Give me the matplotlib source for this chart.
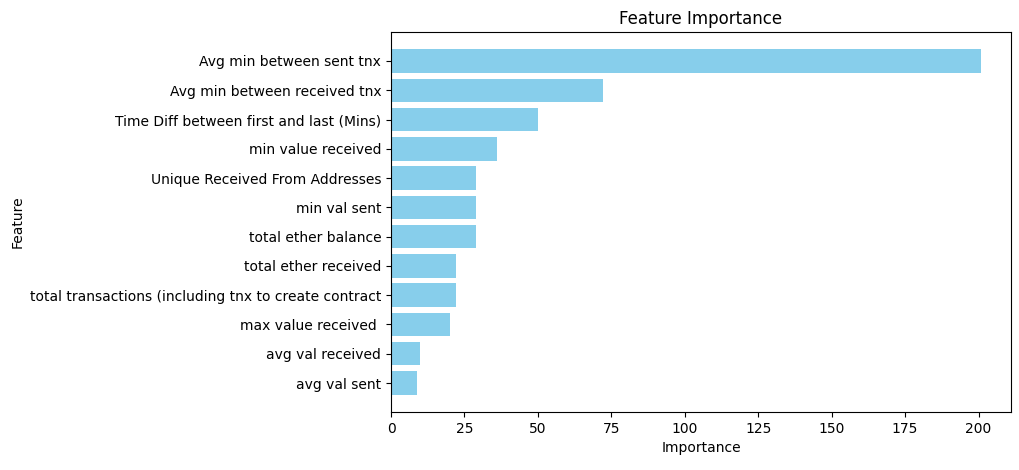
import matplotlib
matplotlib.use("Agg")
import matplotlib.pyplot as plt

features = ["Avg min between sent tnx", "Avg min between received tnx",
            "Time Diff between first and last (Mins)", "min value received",
            "Unique Received From Addresses", "min val sent", "total ether balance",
            "total ether received", "total transactions (including tnx to create contract",
            "max value received ", "avg val received", "avg val sent"]
importance = [201, 72, 50, 36, 29, 29, 29, 22, 22, 20, 10, 9]

fig = plt.figure(figsize=(10.2, 4.7), dpi=100)
ax = fig.add_axes([391/1020, 1-412/470, (1011-391)/1020, (412-32)/470])
ax.barh(features[::-1], importance[::-1], color="skyblue")
ax.set_title("Feature Importance")
ax.set_xlabel("Importance")
ax.set_ylabel("Feature")
fig.savefig("out.png", dpi=100)
